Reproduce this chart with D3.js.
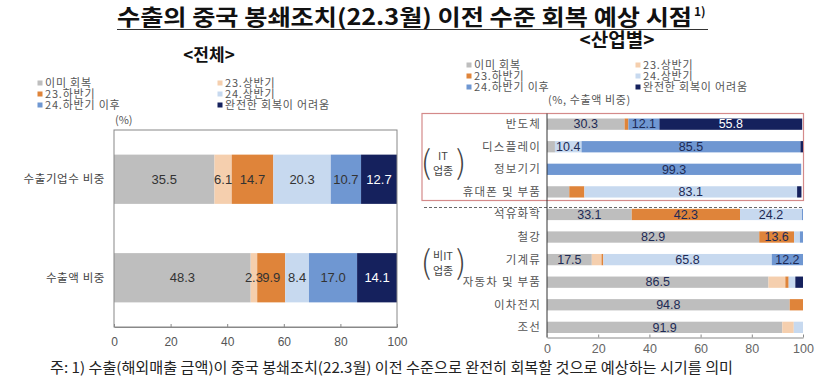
<!DOCTYPE html>
<html><head><meta charset="utf-8">
<script src="https://cdn.jsdelivr.net/npm/d3@7"></script>
<style>
html,body{margin:0;padding:0;background:#fff;}
svg{display:block;}
text{font-family:"Noto Sans CJK KR","Noto Sans",sans-serif;}
.num{font-family:"Liberation Sans",Arial,sans-serif;}
</style></head>
<body>
<svg id="c" width="837" height="383"></svg>
<script>
// ---- data ----
const series = ["이미 회복","23.상반기","23.하반기","24.상반기","24.하반기 이후","완전한 회복이 어려움"];
const seriesColors = ["#bebebe","#f5cfae","#df843a","#c7d9ef","#6f97d2","#15215d"];
const totalCategories = ["수출기업수 비중","수출액 비중"];
const totalValues = [
  [35.5,6.1,14.7,20.3,10.7,12.7],
  [48.3,2.3,9.9,8.4,17.0,14.1]
];
const industryCategories = ["반도체","디스플레이","정보기기","휴대폰 및 부품","석유화학","철강","기계류","자동차 및 부품","이차전지","조선"];
const industryValues = [
  [30.3,0,1.5,0,12.1,55.8],
  [3.1,0,0,10.4,85.5,1.0],
  [0,0,0,0,99.3,0],
  [8.7,0,5.9,83.1,0,1.7],
  [33.1,0,42.3,24.2,0.4,0],
  [82.9,0,13.6,2.3,1.2,0],
  [17.5,3.8,0.7,65.8,12.2,0],
  [86.5,6.6,1.3,2.6,0,3.0],
  [94.8,0,5.2,0,0,0],
  [91.9,4.5,0,3.6,0,0]
];
const tickValues = [0,20,40,60,80,100];
const titleText = "수출의 중국 봉쇄조치(22.3월) 이전 수준 회복 예상 시점";
const footnote = "주: 1) 수출(해외매출 금액)이 중국 봉쇄조치(22.3월) 이전 수준으로 완전히 회복할 것으로 예상하는 시기를 의미";

const svg = d3.select("#c");

// ---- title ----
svg.append("text").attr("x",117).attr("y",25)
  .attr("font-size",22).attr("font-weight",700).attr("fill","#111")
  .attr("textLength",575).attr("lengthAdjust","spacingAndGlyphs")
  .text(titleText);
svg.append("text").attr("x",694).attr("y",16).attr("font-size",12).attr("font-weight",700)
  .attr("fill","#111").text("1)");
svg.append("line").attr("x1",117).attr("x2",708).attr("y1",29.5).attr("y2",29.5)
  .attr("stroke","#333").attr("stroke-width",1.2);

svg.append("text").attr("x",209).attr("y",61).attr("text-anchor","middle")
  .attr("font-size",17).attr("font-weight",700).attr("fill","#111").text("<전체>");
svg.append("text").attr("x",617).attr("y",47).attr("text-anchor","middle")
  .attr("font-size",19).attr("font-weight",700).attr("fill","#111").text("<산업별>");

// ---- stacking helper ----
function stackRow(vals){ let acc=0; return vals.map((v,i)=>{const s={i,v,x0:acc,x1:acc+v}; acc+=v; return s;}); }

// ---- legends ----
function legend(x0,x1,y0,dy,size){
  series.forEach((s,i)=>{
    const col=i%2, row=Math.floor(i/2);
    const x = col===0?x0:x1, y=y0+row*dy;
    svg.append("rect").attr("x",x-2.5).attr("y",y-2.5).attr("width",5).attr("height",5).attr("fill",seriesColors[i]);
    svg.append("text").attr("x",x+5).attr("y",y+4).attr("font-size",size).attr("fill","#555")
      .attr("letter-spacing",0.8).text(s);
  });
}
legend(40,220,83,11,11);
legend(469,638,65,11,11);

svg.append("text").attr("x",115).attr("y",124).attr("font-size",11).attr("fill","#555").text("(%)");
svg.append("text").attr("x",548).attr("y",104).attr("font-size",11).attr("fill","#555").attr("letter-spacing",0.6).text("(%, 수출액 비중)");

// ---- left chart ----
const L = {x0:114, x1:397, y0:130, y1:327};
const xL = d3.scaleLinear().domain([0,100]).range([L.x0,L.x1]);
const yL = d3.scaleBand().domain(totalCategories).range([L.y0,L.y1]).paddingInner(0.5).paddingOuter(0.25);
totalCategories.forEach((c,ci)=>{
  const segs = stackRow(totalValues[ci]);
  const g = svg.append("g");
  g.selectAll("rect").data(segs).join("rect")
    .attr("x",d=>xL(d.x0)).attr("width",d=>xL(d.x1)-xL(d.x0))
    .attr("y",yL(c)).attr("height",yL.bandwidth()).attr("fill",d=>seriesColors[d.i]);
  g.selectAll("text").data(segs.filter(d=>d.v>0)).join("text").attr("class","num")
    .attr("x",d=>xL((d.x0+d.x1)/2)).attr("y",yL(c)+yL.bandwidth()/2+4.5)
    .attr("text-anchor","middle").attr("font-size",13)
    .attr("fill",d=>d.i===5?"#fff":"#333").text(d=>d.v.toFixed(1));
  svg.append("text").attr("x",105).attr("y",yL(c)+yL.bandwidth()/2+4).attr("text-anchor","end")
    .attr("font-size",11.5).attr("fill","#444").attr("letter-spacing",0.6).text(c);
});
svg.append("rect").attr("x",L.x0).attr("y",L.y0).attr("width",L.x1-L.x0).attr("height",L.y1-L.y0)
  .attr("fill","none").attr("stroke","#888").attr("stroke-width",1);
const axL = svg.append("g").attr("transform",`translate(0,${L.y1})`)
  .call(d3.axisBottom(xL).tickValues(tickValues).tickSizeInner(-3).tickSizeOuter(0).tickPadding(10).tickFormat(d3.format("d")));
axL.select(".domain").attr("stroke","#888");
axL.selectAll(".tick line").attr("stroke","#888");
axL.selectAll("text").attr("font-size",12).attr("fill","#555")
  .style("font-family","'Liberation Sans',Arial,sans-serif");

// ---- right chart ----
const R = {x0:547, x1:803, y0:114, y1:337.5};
const xR = d3.scaleLinear().domain([0,100]).range([R.x0,R.x1]);
const yR = d3.scaleBand().domain(industryCategories).range([R.y0,R.y1]).paddingInner(0.5).paddingOuter(0.2);

// red box and dashed separator
svg.append("rect").attr("x",422).attr("y",113.5).attr("width",381.5).attr("height",87)
  .attr("fill","none").attr("stroke","#d48a8a").attr("stroke-width",1.2);
svg.append("line").attr("x1",424).attr("x2",803).attr("y1",207.5).attr("y2",207.5)
  .attr("stroke","#666").attr("stroke-width",1).attr("stroke-dasharray","3,2");

industryCategories.forEach((c,ci)=>{
  const segs = stackRow(industryValues[ci]).filter(d=>d.v>0);
  const g = svg.append("g");
  g.selectAll("rect").data(segs).join("rect")
    .attr("x",d=>xR(d.x0)).attr("width",d=>xR(d.x1)-xR(d.x0))
    .attr("y",yR(c)).attr("height",yR.bandwidth()).attr("fill",d=>seriesColors[d.i]);
  g.selectAll("text").data(segs.filter(d=>d.v>=10)).join("text").attr("class","num")
    .attr("x",d=>xR((d.x0+d.x1)/2)).attr("y",yR(c)+yR.bandwidth()/2+4.3)
    .attr("text-anchor","middle").attr("font-size",12.5)
    .attr("fill",d=>d.i===5?"#fff":"#1d2a55").text(d=>d.v.toFixed(1));
  svg.append("text").attr("x",541).attr("y",yR(c)+yR.bandwidth()/2+4).attr("text-anchor","end")
    .attr("font-size",11.5).attr("fill","#555").attr("letter-spacing",1.2).text(c);
});
svg.append("line").attr("x1",R.x0).attr("x2",R.x0).attr("y1",113.5).attr("y2",R.y1).attr("stroke","#333");
const axR = svg.append("g").attr("transform",`translate(0,${R.y1})`)
  .call(d3.axisBottom(xR).tickValues(tickValues).tickSizeInner(-3).tickSizeOuter(0).tickPadding(7).tickFormat(d3.format("d")));
axR.select(".domain").attr("stroke","#888");
axR.selectAll(".tick line").attr("stroke","#888");
axR.selectAll("text").attr("font-size",12.5).attr("fill","#666")
  .style("font-family","'Liberation Sans',Arial,sans-serif");

// group labels
function groupLabel(top,bottom,cy){
  svg.append("text").attr("x",443).attr("y",cy-3).attr("text-anchor","middle").attr("font-size",11).attr("fill","#444").text(top);
  svg.append("text").attr("x",443).attr("y",cy+12).attr("text-anchor","middle").attr("font-size",11).attr("fill","#444").text(bottom);
  svg.append("text").attr("x",426).attr("y",cy+11).attr("text-anchor","middle").attr("font-size",32).attr("font-weight",300).attr("fill","#444").text("(");
  svg.append("text").attr("x",461).attr("y",cy+11).attr("text-anchor","middle").attr("font-size",32).attr("font-weight",300).attr("fill","#444").text(")");
}
groupLabel("IT","업종",163);
groupLabel("비IT","업종",263);

// footnote
svg.append("text").attr("x",50).attr("y",373).attr("font-size",14.5).attr("fill","#222")
  .attr("textLength",683).attr("lengthAdjust","spacingAndGlyphs").text(footnote);
</script>
</body></html>
